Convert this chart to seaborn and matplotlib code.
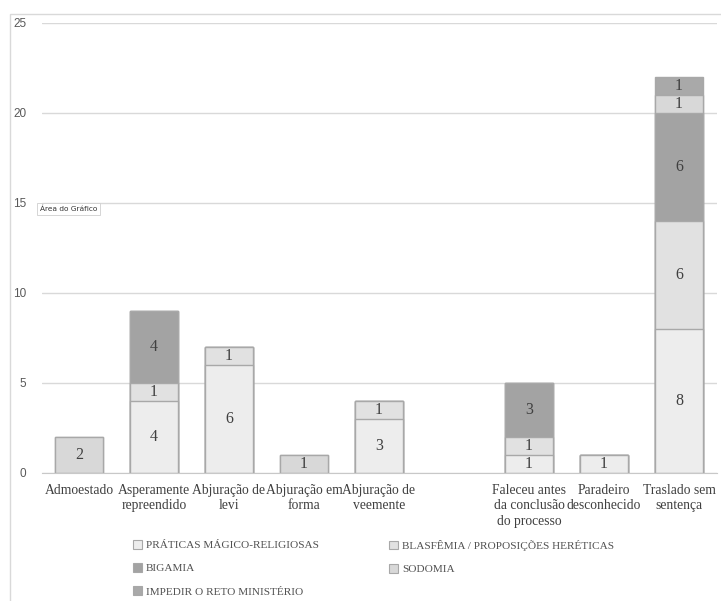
import matplotlib
matplotlib.use("Agg")
import matplotlib.pyplot as plt
from matplotlib.patches import Patch, Rectangle
import numpy as np
import pandas as pd
import seaborn as sns

categories = ["Admoestado", "Asperamente\nrepreendido", "Abjuração de\nlevi",
              "Abjuração em\nforma", "Abjuração de\nveemente", " ",
              "Faleceu antes\nda conclusão\ndo processo", "Paradeiro\ndesconhecido",
              "Traslado sem\nsentença"]
series_names = ["PRÁTICAS MÁGICO-RELIGIOSAS", "BLASFÊMIA / PROPOSIÇÕES HERÉTICAS",
                "BIGAMIA", "SODOMIA", "IMPEDIR O RETO MINISTÉRIO"]
praticas  = [0, 4, 6, 0, 3, 0, 1, 1, 8]
blasfemia = [0, 1, 1, 0, 1, 0, 1, 0, 6]
bigamia   = [0, 4, 0, 0, 0, 0, 3, 0, 6]
sodomia   = [2, 0, 0, 1, 0, 0, 0, 0, 1]
impedir   = [0, 0, 0, 0, 0, 0, 0, 0, 1]
y_ticks = [0, 5, 10, 15, 20, 25]

colors = ["#ededed", "#e1e1e1", "#a3a3a3", "#d8d8d8", "#a9a9a9"]
edge = "#a8a8a8"

series = [praticas, blasfemia, bigamia, sodomia, impedir]
cum = np.cumsum(np.array(series, dtype=float), axis=0)

sns.set_style("white")
plt.rcParams["font.family"] = ["Liberation Serif", "DejaVu Serif"]

fig = plt.figure(figsize=(7.21, 6.01), dpi=100)
ax = fig.add_axes([41.5 / 721, (601 - 472.7) / 601, 675 / 721, 450 / 601])

# chart area border
fig.patches.append(Rectangle((10 / 721, -0.05), 1.2, (601 - 14) / 601 + 0.05,
                             transform=fig.transFigure, fill=False,
                             edgecolor="#d9d9d9", lw=1, zorder=0))

for k in range(len(series) - 1, -1, -1):
    vals = np.where(cum[k] > 0, cum[k], np.nan)
    df = pd.DataFrame({"cat": categories, "val": vals})
    sns.barplot(data=df, x="cat", y="val", order=categories, color=colors[k],
                saturation=1, width=0.64, edgecolor=edge, linewidth=1,
                ax=ax, zorder=3)

for k, vals in enumerate(series):
    for i, v in enumerate(vals):
        if v > 0:
            bottom = cum[k][i] - v
            ax.text(i, bottom + v / 2, str(v), ha="center", va="center",
                    fontsize=11.5, color="#404040", zorder=5)

ax.set_ylim(0, 25)
ax.set_xlim(-0.5, len(categories) - 0.5)
ax.set_yticks(y_ticks)
ax.set_yticklabels([str(t) for t in y_ticks], family="Liberation Sans",
                   fontsize=8.5, color="#595959")
ax.tick_params(axis="y", length=0, pad=11)
ax.tick_params(axis="x", length=0, pad=8)
ax.set_xticks(range(len(categories)))
ax.set_xticklabels(categories, fontsize=9.8, color="#404040", linespacing=1.25)
ax.set_xlabel("")
ax.set_ylabel("")
ax.yaxis.grid(True, color="#d9d9d9", lw=1, zorder=0)
ax.set_axisbelow(True)
for s in ["top", "right", "left"]:
    ax.spines[s].set_visible(False)
ax.spines["bottom"].set_color("#c8c8c8")
ax.spines["bottom"].set_zorder(4)

# legend
handles = [Patch(facecolor=colors[k], edgecolor=edge, lw=0.8, label=series_names[k])
           for k in range(5)]
common = dict(frameon=False, fontsize=8.1, labelcolor="#505050",
              handlelength=0.8, handleheight=0.8, handletextpad=0.35,
              labelspacing=1.15, borderpad=0, borderaxespad=0)
leg1 = fig.legend(handles=[handles[0], handles[2], handles[4]], loc="upper left",
                  bbox_to_anchor=(133 / 721, 1 - 540 / 601), **common)
leg2 = fig.legend(handles=[handles[1], handles[3]], loc="upper left",
                  bbox_to_anchor=(389 / 721, 1 - 540 / 601), **common)

# tooltip
fig.text(40 / 721, 1 - 209 / 601, "Área do Gráfico", family="DejaVu Sans",
         fontsize=5.3, color="#333333", va="center", ha="left",
         bbox=dict(boxstyle="square,pad=0.4", facecolor="white",
                   edgecolor="#cfcfcf", lw=0.6))

fig.savefig("out.png", dpi=100, facecolor="white")
